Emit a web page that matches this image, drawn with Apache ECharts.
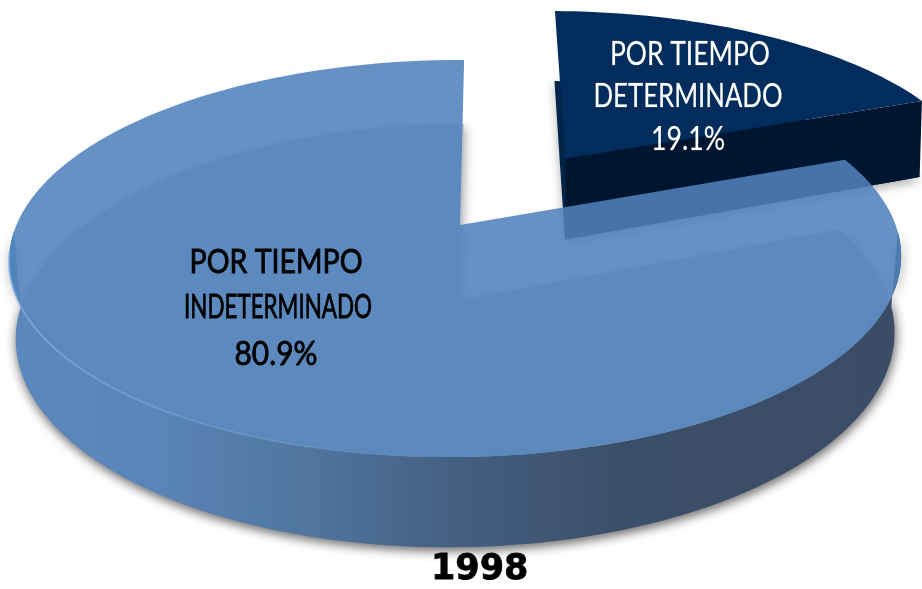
<!DOCTYPE html>
<html>
<head>
<meta charset="utf-8">
<style>html,body{margin:0;padding:0;background:#fff}#c{width:922px;height:589px}</style>
<script src="https://cdn.jsdelivr.net/npm/echarts@6/dist/echarts.min.js"></script>
</head>
<body>
<div id="c"></div>
<script>
// ---- data ----
const categories = ['POR TIEMPO\nDETERMINADO', 'POR TIEMPO\nINDETERMINADO'];
const shares = [19.1, 80.9];
const chartTitle = '1998';
const explode = [0.445, 0];

// ---- projection of the tilted disk (perspective) ----
const ax = 460, ay = 225, A = 439.6, B = 192.9, K = 0.1688, M = 0.009, SK = 0.025, H = 75;
function proj(u, v, low, hMul, taper) {
  const w = 1 + K * v + M * u;
  let X = A * u / w;
  const Y = B * v / w;
  if (low) X *= taper;
  return [ax + X + SK * Y, ay - Y + (low ? H * hMul / w : 0)];
}
const rad = d => d * Math.PI / 180;
function arc(a0, a1, c, low, hMul, taper) {
  const pts = [], n = Math.max(8, Math.ceil(Math.abs(a1 - a0) / 1.5));
  for (let i = 0; i <= n; i++) {
    const t = rad(a0 + (a1 - a0) * i / n);
    pts.push(proj(c[0] + Math.sin(t), c[1] + Math.cos(t), low, hMul, taper));
  }
  return pts;
}
function poly(points, style) { return {type: 'polygon', shape: {points}, style}; }
function hGrad(x0, x1, stops) {
  return {type: 'linear', global: true, x: x0, y: 0, x2: x1, y2: 0,
    colorStops: stops.map(s => ({offset: s[0], color: s[1]}))};
}

const labelStyle = [
  {fill: '#ffffff', stroke: 'rgba(255,240,200,0.35)', lw: 0.5,
   lines: [[690, 55, 160], [688, 97, 189], [688, 140, 74]]},
  {fill: '#000000', stroke: '#000000', lw: 0.8,
   lines: [[276, 263, 173], [278, 308, 188], [276, 355, 83]]}
];
const cvs = document.createElement('canvas').getContext('2d');
const FONT = 'Lato', FS = 32;
cvs.font = FS + 'px ' + FONT;

function textEls(i, value) {
  const lines = categories[i].split('\n').concat(value.toFixed(1) + '%');
  const st = labelStyle[i];
  return lines.map((t, j) => {
    const p = st.lines[j];
    return {type: 'text', x: p[0], y: p[1], scaleX: p[2] / cvs.measureText(t).width,
      style: {text: t, fontFamily: FONT, fontSize: FS, fill: st.fill, stroke: st.stroke,
        lineWidth: st.lw, align: 'center', verticalAlign: 'middle'}};
  });
}

function renderItem(params, api) {
  const i = params.dataIndex, val = api.value(0);
  const total = shares.reduce((a, b) => a + b, 0);
  let a0 = 0;
  for (let j = 0; j < i; j++) a0 += shares[j] / total * 360;
  const a1 = a0 + val / total * 360, mid = (a0 + a1) / 2;
  const c = [explode[i] * Math.sin(rad(mid)), explode[i] * Math.cos(rad(mid))];
  const apexT = proj(c[0], c[1], false), els = [];
  const shadow = {shadowColor: 'rgba(0,0,0,0.36)', shadowBlur: 11, shadowOffsetX: 1, shadowOffsetY: 3};

  if (i === 0) {
    const hm = 1.15, tp = 0.995;
    const apexB = proj(c[0], c[1], true, hm, tp);
    const topArc = arc(a0, a1, c, false), lowArc = arc(a0, a1, c, true, hm, tp);
    els.push(poly([apexB].concat(lowArc), Object.assign({fill: '#012449'}, shadow)));
    const e0 = topArc[topArc.length - 1], e1 = lowArc[lowArc.length - 1];
    els.push(poly([apexT, e0, e1, apexB], {fill: '#00152f'}));
    els.push(poly([apexT].concat(topArc), {fill: '#012c5b'}));
  } else {
    const tp = 0.985;
    const apexB = proj(c[0], c[1], true, 1, tp);
    const lowArc = arc(a0, a1, c, true, 1, tp);
    els.push(poly([apexB].concat(lowArc), Object.assign({fill: '#bcc0cc'}, shadow)));
    // outer wall on the near side of the rim
    const from = Math.max(a0, 92), to = 268;
    const wt = arc(from, to, c, false), wb = arc(from, to, c, true, 1, tp);
    els.push(poly(wt.concat(wb.reverse()), Object.assign({
      fill: hGrad(10, 902, [[0, '#5b88bd'], [0.17, '#5a84b7'], [0.33, '#50769f'],
        [0.5, '#445f82'], [0.68, '#3c4f6a'], [1, '#3a4c66']])
    }, shadow)));
    els.push(poly([apexT].concat(arc(a0, a1, c, false)),
      {fill: 'rgba(80,130,188,0.88)'}));
    // bevel highlight along the near rim
    els.push({type: 'polyline', shape: {points: arc(262, 160, c, false)}, style: {
      fill: null, lineWidth: 2,
      stroke: hGrad(10, 440, [[0, 'rgba(125,175,230,0.7)'], [0.5, 'rgba(125,175,230,0.3)'], [1, 'rgba(125,175,230,0)']])
    }});
  }
  return {type: 'group', children: els.concat(textEls(i, val))};
}

const chart = echarts.init(document.getElementById('c'), null, {renderer: 'canvas'});
chart.setOption({
  animation: false,
  backgroundColor: '#ffffff',
  title: {text: chartTitle, left: 426, top: 547,
    textStyle: {fontFamily: 'DejaVu Sans', fontWeight: 'bold', fontSize: 35, color: '#000',
      textBorderColor: '#000', textBorderWidth: 0.8}},
  series: [{type: 'custom', coordinateSystem: 'none', silent: true, renderItem,
    data: shares.map((v, i) => ({name: categories[i], value: [v]}))}]
});
</script>
</body>
</html>
